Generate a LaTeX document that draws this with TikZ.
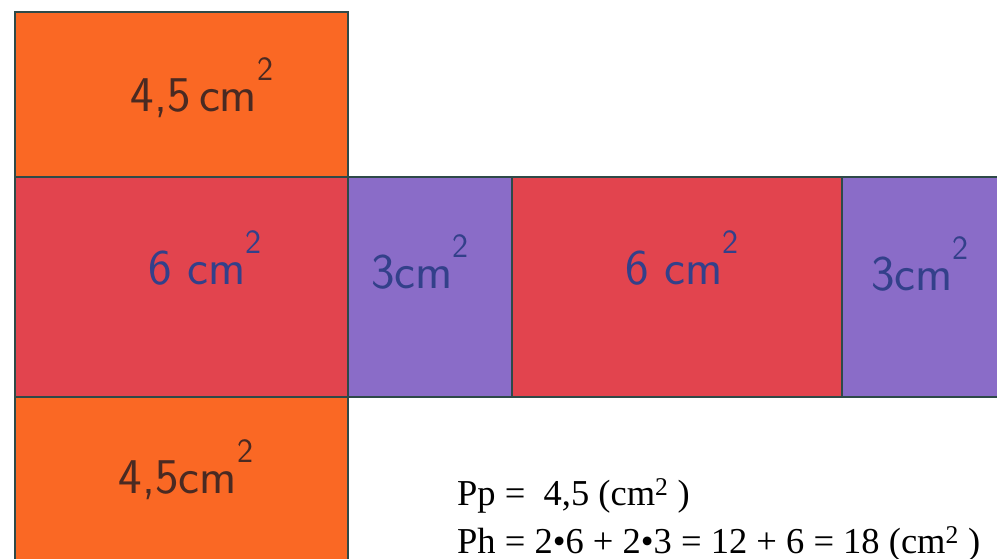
\documentclass[tikz,border=0pt]{standalone}
\usepackage{fontspec}
\setmainfont{Liberation Serif}
\definecolor{orangeF}{HTML}{FA6824}
\definecolor{redF}{HTML}{E2444E}
\definecolor{purpleF}{HTML}{8A6CC8}
\definecolor{edgeC}{HTML}{2E4A48}
\definecolor{brownT}{HTML}{4A2A22}
\definecolor{blueT}{HTML}{33408A}
\newcommand{\sqtwo}{\raisebox{0.62em}{\fontsize{34}{36}\selectfont 2}}
\tikzset{
  face/.style={draw=edgeC, line width=1.8pt, anchor=north west, inner sep=0pt, outer sep=0pt},
  hand/.style={font=\sffamily\fontsize{50}{54}\selectfont, inner sep=0pt},
  formula/.style={font=\fontsize{36.5}{40}\selectfont, anchor=base west, inner sep=0pt}
}
\begin{document}
\begin{tikzpicture}[x=1pt,y=-1pt]
\useasboundingbox (0,0) rectangle (997,559);
\fill[white] (0,0) rectangle (997,559);
\clip (0,0) rectangle (997,559);
% faces
\node[face, fill=orangeF, minimum width=333pt, minimum height=165pt] (top) at (15,12) {};
\node[face, fill=redF, minimum width=333pt, minimum height=220pt] (red1) at (15,177) {};
\node[face, fill=purpleF, minimum width=164pt, minimum height=220pt] (pur1) at (348,177) {};
\node[face, fill=redF, minimum width=330pt, minimum height=220pt] (red2) at (512,177) {};
\node[face, fill=purpleF, minimum width=170pt, minimum height=220pt] (pur2) at (842,177) {};
\node[face, fill=orangeF, minimum width=333pt, minimum height=175pt] (bot) at (15,397) {};
% labels
\node[hand, text=brownT] (ltop) at (202,88) {4,5\,cm\sqtwo};
\node[hand, text=blueT] (lred1) at (205,258) {6 cm\sqtwo};
\node[hand, text=blueT] (lpur1) at (420,262) {3cm\sqtwo};
\node[hand, text=blueT] (lred2) at (682,258) {6 cm\sqtwo};
\node[hand, text=blueT] (lpur2) at (920,264) {3cm\sqtwo};
\node[hand, text=brownT] (lbot) at (186,470) {4,5cm\sqtwo};
% formulas
\node[formula] (pp) at (457,505) {Pp =\ \ 4,5 (cm\textsuperscript{2} )};
\node[formula] (ph) at (457,553) {Ph = 2•6 + 2•3 = 12 + 6 = 18 (cm\textsuperscript{2} )};
\end{tikzpicture}
\end{document}
